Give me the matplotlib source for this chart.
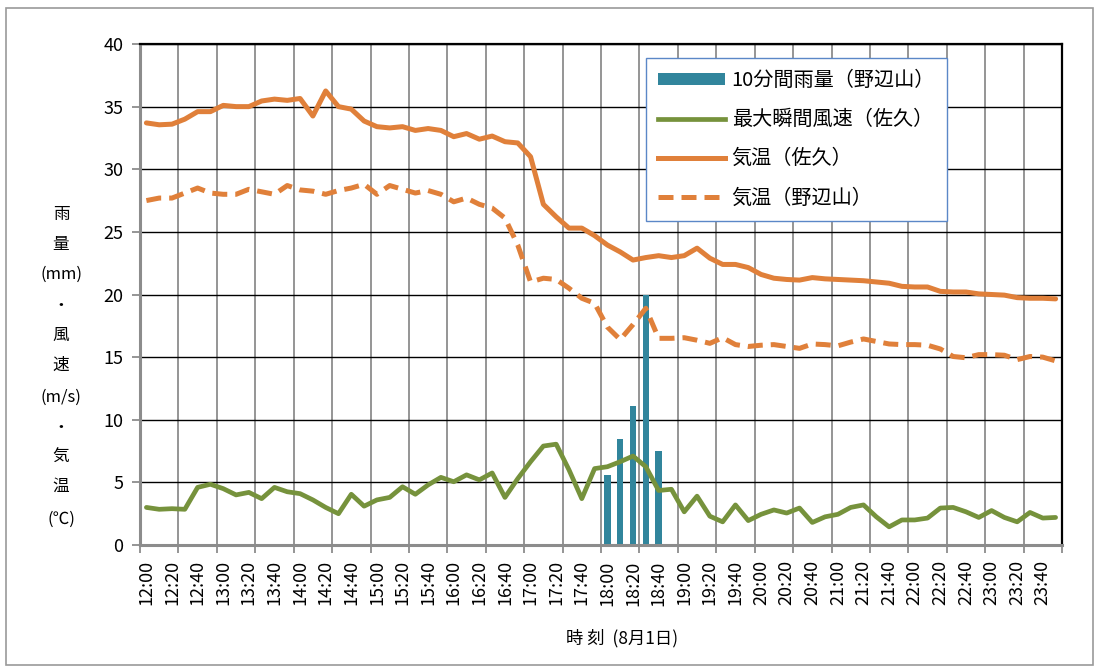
import matplotlib
matplotlib.use('Agg')
import matplotlib.pyplot as plt
import numpy as np
from matplotlib.patches import Rectangle, Patch
from matplotlib.lines import Line2D

plt.rcParams['font.family'] = ['Noto Sans CJK JP', 'DejaVu Sans']

# categories: 10-minute steps 12:00 .. 23:50 (8/1)
times = [f"{h}:{m:02d}" for h in range(12, 24) for m in range(0, 60, 10)]
tick_labels = ["12:00", "12:20", "12:40", "13:00", "13:20", "13:40",
               "14:00", "14:20", "14:40", "15:00", "15:20", "15:40",
               "16:00", "16:20", "16:40", "17:00", "17:20", "17:40",
               "18:00", "18:20", "18:40", "19:00", "19:20", "19:40",
               "20:00", "20:20", "20:40", "21:00", "21:20", "21:40",
               "22:00", "22:20", "22:40", "23:00", "23:20", "23:40"]

# 10分間雨量(野辺山)
rain_times = ["18:00", "18:10", "18:20", "18:30", "18:40"]
rain_values = [5.6, 8.5, 11.1, 20.0, 7.5]

# 最大瞬間風速(佐久)
gust_saku = [3.0, 2.85, 2.9, 2.85, 4.6, 4.85, 4.5, 4.0, 4.2, 3.7, 4.6, 4.25,
             4.1, 3.6, 3.0, 2.5, 4.05, 3.1, 3.6, 3.8, 4.65, 4.05, 4.8, 5.4,
             5.05, 5.6, 5.2, 5.75, 3.8, 5.3, 6.65, 7.9, 8.05, 6.0, 3.7, 6.1,
             6.25, 6.65, 7.1, 6.25, 4.35, 4.45, 2.65, 3.9, 2.3, 1.85, 3.2, 1.95,
             2.45, 2.8, 2.55, 2.95, 1.8, 2.25, 2.45, 3.0, 3.2, 2.25, 1.45, 2.0,
             2.0, 2.15, 2.95, 3.0, 2.65, 2.2, 2.75, 2.2, 1.85, 2.6, 2.15, 2.2]

# 気温(佐久)
temp_saku = [33.7, 33.55, 33.6, 34.0, 34.6, 34.6, 35.1, 35.0, 35.0, 35.45, 35.6, 35.5,
             35.65, 34.25, 36.25, 35.0, 34.8, 33.85, 33.4, 33.3, 33.4, 33.1, 33.25, 33.1,
             32.6, 32.85, 32.4, 32.65, 32.2, 32.1, 31.0, 27.2, 26.2, 25.3, 25.3, 24.7,
             23.95, 23.4, 22.75, 22.95, 23.1, 22.95, 23.1, 23.7, 22.9, 22.4, 22.4, 22.15,
             21.6, 21.3, 21.2, 21.15, 21.35, 21.25, 21.2, 21.15, 21.1, 21.0, 20.9, 20.65,
             20.6, 20.6, 20.25, 20.2, 20.2, 20.05, 20.0, 19.95, 19.75, 19.7, 19.7, 19.65]

# 気温(野辺山)
temp_nobeyama = [27.5, 27.7, 27.7, 28.1, 28.5, 28.1, 28.0, 28.0, 28.4, 28.2, 28.0, 28.7,
                 28.35, 28.25, 28.0, 28.3, 28.5, 28.8, 28.0, 28.7, 28.4, 28.1, 28.3, 28.0,
                 27.4, 27.7, 27.2, 26.9, 26.1, 23.95, 21.0, 21.3, 21.2, 20.5, 19.7, 19.3,
                 17.4, 16.4, 17.6, 18.9, 16.5, 16.5, 16.55, 16.35, 16.1, 16.55, 16.0, 15.85,
                 15.95, 16.0, 15.85, 15.7, 16.05, 16.0, 15.9, 16.2, 16.45, 16.25, 16.05, 16.0,
                 16.0, 15.95, 15.65, 15.05, 14.95, 15.2, 15.2, 15.15, 14.8, 15.05, 15.0, 14.7]

yticks = [0, 5, 10, 15, 20, 25, 30, 35, 40]

C_RAIN = '#31859C'
C_GUST = '#76923C'
C_TEMP = '#E0803A'
DASH = (0, (3.0, 1.6))

W, H = 1096, 668
fig = plt.figure(figsize=(W / 100, H / 100), dpi=100)
ax = fig.add_axes([140 / W, 1 - 545 / H, 922 / W, 501 / H])

x = np.arange(len(times))
rain_idx = [times.index(t) for t in rain_times]

ax.bar(rain_idx, rain_values, width=0.5, color=C_RAIN, zorder=2)
ax.plot(x, gust_saku, color=C_GUST, lw=3.4, zorder=3,
        solid_joinstyle='round', solid_capstyle='round')
ax.plot(x, temp_saku, color=C_TEMP, lw=3.6, zorder=4,
        solid_joinstyle='round', solid_capstyle='round')
ax.plot(x, temp_nobeyama, color=C_TEMP, lw=3.6, zorder=4,
        linestyle=DASH, dash_capstyle='butt')

ax.set_xlim(-0.5, len(times) - 0.5)
ax.set_ylim(0, 40)
ax.set_yticks(yticks)
ax.set_yticklabels([str(v) for v in yticks])
ax.yaxis.grid(True, color='black', lw=1.0)

ax.set_xticks(x[::2])
ax.set_xticklabels(tick_labels, rotation=90)
ax.set_xticks(np.arange(-0.5, len(times), 3), minor=True)
ax.xaxis.grid(True, which='minor', color='#8c8c8c', lw=1.3)
ax.xaxis.grid(False, which='major')
ax.tick_params(axis='x', which='major', length=0, pad=11, labelsize=13)
ax.tick_params(axis='x', which='minor', length=6, color='#8c8c8c', width=1.3)
ax.tick_params(axis='y', length=6, color='#8c8c8c', width=1.3, pad=6, labelsize=13)
ax.set_axisbelow(True)

for s in ('left', 'bottom'):
    ax.spines[s].set_color('#8c8c8c')
    ax.spines[s].set_linewidth(2.2)
for s in ('top', 'right'):
    ax.spines[s].set_color('black')
    ax.spines[s].set_linewidth(1.6)

# legend
handles = [
    Patch(facecolor=C_RAIN, edgecolor='none'),
    Line2D([], [], color=C_GUST, lw=3.4),
    Line2D([], [], color=C_TEMP, lw=3.6),
    Line2D([], [], color=C_TEMP, lw=3.6, linestyle=DASH),
]
labels = ['10分間雨量（野辺山）', '最大瞬間風速（佐久）', '気温（佐久）', '気温（野辺山）']
leg = ax.legend(handles, labels, loc='upper left',
                bbox_to_anchor=(646 / W, 1 - 58 / H), bbox_transform=fig.transFigure,
                borderaxespad=0, fontsize=14.5, handlelength=3.3, handleheight=0.55,
                handletextpad=0.35, labelspacing=0.9, borderpad=0.6,
                fancybox=False, framealpha=1, edgecolor='#5B87C7')
leg.get_frame().set_linewidth(1.0)
leg.set_zorder(10)

# vertical y-axis title
ylab = ['雨', '量', '(mm)', '・', '風', '速', '(m/s)', '・', '気', '温', '(℃)']
ypos = [215, 245, 274, 305, 335, 365, 397, 428, 457, 486, 519]
for t, yp in zip(ylab, ypos):
    fig.text(61 / W, 1 - yp / H, t, ha='center', va='center', fontsize=12)

fig.text(622 / W, 1 - 638 / H, '時 刻  (8月1日)', ha='center', va='center', fontsize=12.5)

fig.add_artist(Rectangle((6 / W, 3 / H), 1087 / W, 657 / H, transform=fig.transFigure,
                         fill=False, edgecolor='#9a9a9a', lw=1.2))

fig.savefig('out.png', dpi=100)
